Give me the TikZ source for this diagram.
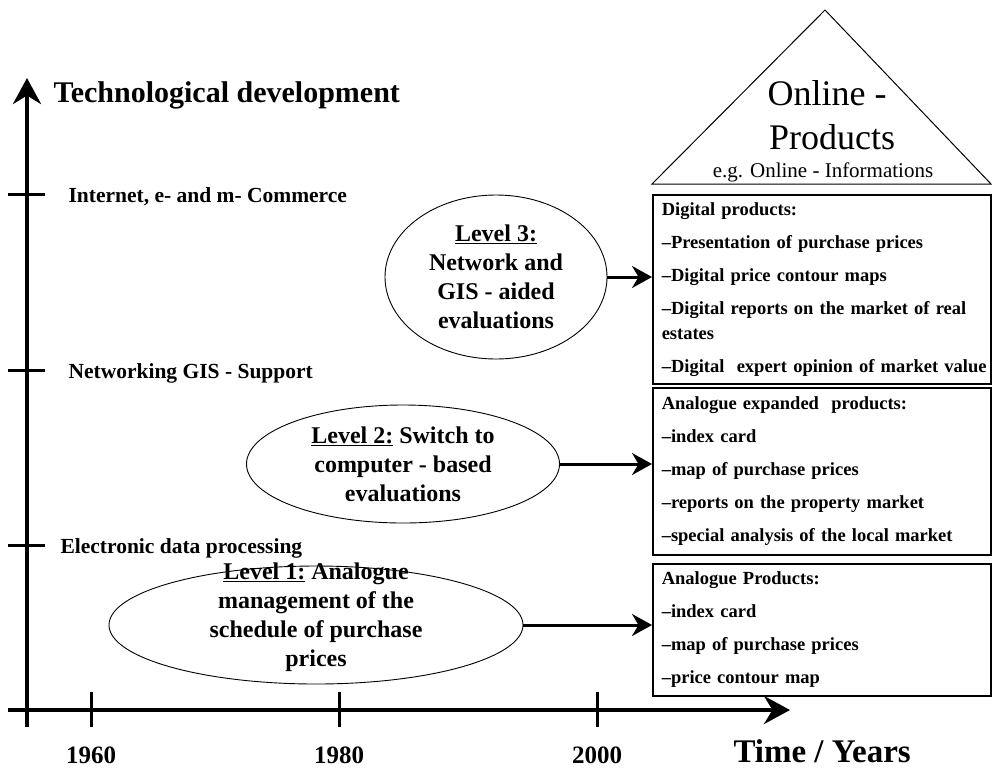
\documentclass[tikz,border=0pt]{standalone}
\usepackage{fontspec}
\setmainfont{Liberation Serif}
\usetikzlibrary{positioning,calc,arrows.meta,shapes.geometric}

\begin{document}
\begin{tikzpicture}[x=1pt,y=-1pt,
  levelell/.style={draw,ellipse,line width=0.9pt,inner sep=0pt},
  leveltxt/.style={align=center,font=\fontsize{24}{29}\selectfont\bfseries},
  prodbox/.style={draw,line width=1.5pt,anchor=north west,align=left,text width=320pt,inner xsep=9pt,inner ysep=2pt,font=\fontsize{18.5}{25}\selectfont\bfseries},
  axislab/.style={anchor=base west,font=\fontsize{21.5}{26}\selectfont\bfseries},
  yearlab/.style={anchor=base,font=\fontsize{25}{30}\selectfont\bfseries},
  tickline/.style={line width=3pt},
  lvlarrow/.style={line width=3pt,-{Stealth[length=20pt,width=22pt]}},
  axisarrow/.style={line width=4pt,-{Stealth[length=26pt,width=28pt]}}]
\useasboundingbox (0,0) rectangle (992,769);

\coordinate (yfoot) at (27,727);
\coordinate (ytop) at (27,78);
\coordinate (xfoot) at (8,710);
\coordinate (xtip) at (790,710);
\draw[axisarrow] (yfoot) -- (ytop);
\draw[axisarrow] (xfoot) -- (xtip);

\node[anchor=base west,font=\fontsize{30}{36}\selectfont\bfseries] (techdev) at (50,102) {Technological development};
\node[anchor=base west,font=\fontsize{33}{38}\selectfont\bfseries] (timeyr) at (730,762) {Time / Years};

\foreach \y/\xl/\lab [count=\i] in {194/65/{Internet, e- and m- Commerce},370/65/{Networking GIS - Support},545/57/{Electronic data processing}}{
  \draw[tickline] (8,\y) -- (45,\y);
  \node[axislab] (tech\i) at (\xl,\y+8) {\lab};
}
\foreach \x/\yr in {91/1960,339/1980,597/2000}{
  \draw[tickline] (\x,692) -- (\x,727);
  \node[yearlab] (yr\yr) at (\x,763) {\yr};
}

\coordinate (apex) at (825,10);
\coordinate (baseL) at (652,184);
\coordinate (baseR) at (991,184);
\draw[line width=1pt] (apex) -- (baseL) -- (baseR) -- cycle;
\node[anchor=base,font=\fontsize{36}{40}\selectfont] (online) at (827,105) {Online -};
\node[anchor=base,font=\fontsize{36}{40}\selectfont] (products) at (832,149) {Products};
\node[anchor=base,font=\fontsize{21}{25}\selectfont] (eginfo) at (823,177) {e.g. Online - Informations};

\node[prodbox,minimum height=189pt] (prodC) at (652,194) {Digital products:\\[8pt]
  --Presentation of purchase prices\\[8pt]
  --Digital price contour maps\\[8pt]
  --Digital reports on the market of real\\ estates\\[8pt]
  \mbox{--Digital\ \ expert opinion of market value}};
\node[prodbox,minimum height=167pt] (prodB) at (652,387) {Analogue expanded\ \ products:\\[8pt]
  --index card\\[8pt]
  --map of purchase prices\\[8pt]
  --reports on the property market\\[8pt]
  --special analysis of the local market};
\node[prodbox,minimum height=132pt] (prodA) at (652,563) {Analogue Products:\\[8pt]
  --index card\\[8pt]
  --map of purchase prices\\[8pt]
  --price contour map};

\node[levelell,minimum width=222pt,minimum height=164pt] (lvlC) at (496,277) {};
\node[levelell,minimum width=313pt,minimum height=118pt] (lvlB) at (403,464) {};
\node[levelell,minimum width=414pt,minimum height=118pt] (lvlA) at (316,625) {};
\node[leveltxt] (txtC) at (lvlC.center) {\underline{Level 3:}\\ Network and\\ GIS - aided\\ evaluations};
\node[leveltxt] (txtB) at (lvlB.center) {\underline{Level 2:} Switch to\\ computer - based\\ evaluations};
\node[leveltxt] (txtA) at (316,617) {\underline{Level 1:} Analogue\\ management of the\\ schedule of purchase\\ prices};

\draw[lvlarrow] (lvlC.east) -- (lvlC.east -| prodC.west);
\draw[lvlarrow] (lvlB.east) -- (lvlB.east -| prodB.west);
\draw[lvlarrow] (lvlA.east) -- (lvlA.east -| prodA.west);
\end{tikzpicture}
\end{document}
